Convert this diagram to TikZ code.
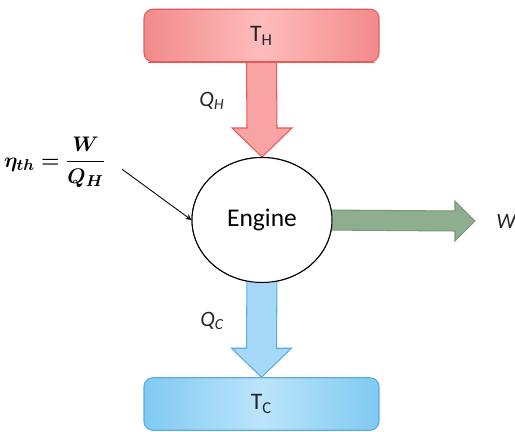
\documentclass[tikz,border=0pt]{standalone}
\usepackage{fontspec}
\setmainfont{Carlito}
\usepackage{amsmath,bm}
\usetikzlibrary{calc,shapes.geometric}
\definecolor{hotedge}{HTML}{F28A8A}
\definecolor{hotmid}{HTML}{FFBCBC}
\definecolor{hotline}{HTML}{E85A5A}
\definecolor{hotflow}{HTML}{F8A4A4}
\definecolor{coldedge}{HTML}{80C9F2}
\definecolor{coldmid}{HTML}{BCE5FB}
\definecolor{coldline}{HTML}{58ADE4}
\definecolor{coldflow}{HTML}{A6D9F7}
\definecolor{workflow}{HTML}{8FAE8F}
\definecolor{workline}{HTML}{769876}
\begin{document}
\begin{tikzpicture}[x=0.02cm,y=-0.02cm,>=stealth,
        reservoir/.style={rectangle,draw,rounded corners=5pt,line width=0.6pt,
                    minimum width=4.7cm,minimum height=1.05cm,inner sep=0pt,
                    font=\fontsize{13.5}{15}\selectfont,text=black!85},
        hotbox/.style={reservoir,draw=hotline,left color=hotedge,
                    right color=hotedge,middle color=hotmid},
        coldbox/.style={reservoir,draw=coldline,left color=coldedge,
                    right color=coldedge,middle color=coldmid},
        engine/.style={ellipse,draw,fill=white,line width=0.6pt,
                    minimum width=2.8cm,minimum height=2.5cm,
                    font=\fontsize{14.5}{17}\selectfont},
        flowlabel/.style={font=\fontsize{12.5}{14}\selectfont\itshape,text=black!85},
        blockarrow/.style={line width=0.6pt,line join=miter}]
      \useasboundingbox (0,0) rectangle (515,432);
      %% -- reservoirs and engine --------------------------
      \node[hotbox]  (th)  at (261.5,35.5) {T\textsubscript{H}};
      \node[coldbox] (tc)  at (261.5,404)  {T\textsubscript{C}};
      \coordinate (wtip) at (475,221);
      %% -- block arrows (drawn below the engine) ----------
      \draw[blockarrow,draw=hotline,fill=hotflow]
            ($(th.south)+(-15,0)$) -- ($(262,157)+(-15,-29)$) -- ($(262,157)+(-30,-29)$)
            -- (262,157) -- ($(262,157)+(30,-29)$) -- ($(262,157)+(15,-29)$)
            -- ($(th.south)+(15,0)$);
      \node[engine] (eng) at (262,220) {};
      \draw[blockarrow,draw=coldline,fill=coldflow]
            ($(eng.south)+(-15,-10)$) -- ($(tc.north)+(-15,-29)$) -- ($(tc.north)+(-30,-29)$)
            -- (tc.north) -- ($(tc.north)+(30,-29)$) -- ($(tc.north)+(15,-29)$)
            -- ($(eng.south)+(15,-10)$);
      \draw[blockarrow,draw=workline,fill=workflow]
            ($(eng.east)+(-10,-10)$) -- ($(wtip)+(-20,-10)$) -- ($(wtip)+(-20,-20)$)
            -- (wtip) -- ($(wtip)+(-20,20)$) -- ($(wtip)+(-20,10)$)
            -- ($(eng.east)+(-10,10)$);
      \node[engine] (eng) at (262,220) {Engine};
      \draw[line width=0.6pt,draw=hotline] ($(th.south west)+(5,0)$) -- ($(th.south east)+(-5,0)$);
      %% -- labels ------------------------------------------
      \node[flowlabel] (qh) at (212,101) {Q\textsubscript{H}};
      \node[flowlabel] (qc) at (212,321) {Q\textsubscript{C}};
      \node[flowlabel,anchor=west,inner sep=0pt] (wout) at (496,221) {W};
      \node (eff) at (55,162) {\fontsize{13}{15}\selectfont
            $\bm{\eta_{th}=\dfrac{W}{Q_H}}$};
      %% -- efficiency pointer ------------------------------
      \draw[->,line width=0.5pt,shorten <=7pt] (eff.east) -- (eng.west);
    \end{tikzpicture}
\end{document}
